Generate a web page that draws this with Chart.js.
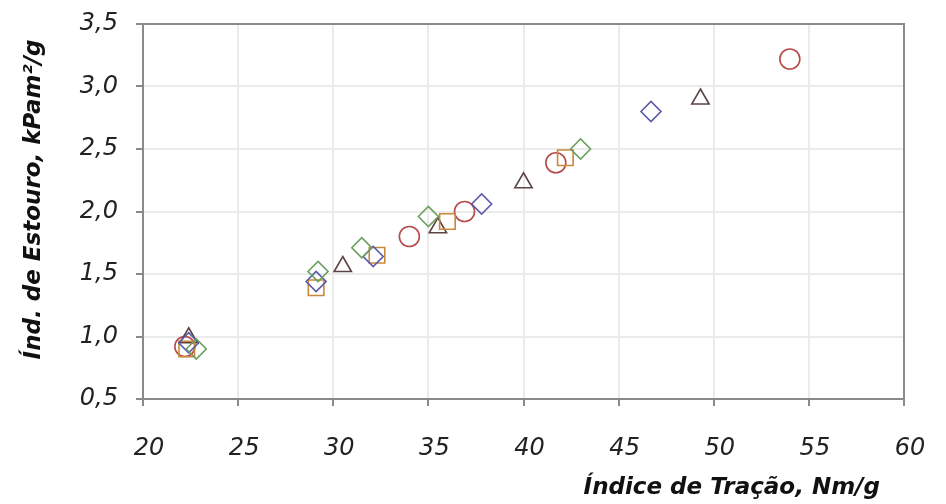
<!DOCTYPE html>
<html>
<head>
<meta charset="utf-8">
<script src="https://cdn.jsdelivr.net/npm/chart.js@4"></script>
<style>
  html, body { margin: 0; padding: 0; background: #fff; }
  #wrap { width: 946px; height: 504px; }
</style>
</head>
<body>
<div id="wrap"><canvas id="ESTOURO"></canvas></div>
<script>
// Índice de tração (x) vs índice de estouro (y), uma série por marcador
const circuloX = [22.2, 34.0, 36.9, 41.7, 54.0];
const circuloY = [0.92, 1.80, 2.00, 2.39, 3.22];

const quadradoX = [22.3, 29.1, 32.3, 36.0, 42.2];
const quadradoY = [0.90, 1.39, 1.65, 1.92, 2.43];

const trianguloX = [22.4, 30.5, 35.5, 40.0, 49.3];
const trianguloY = [0.99, 1.56, 1.87, 2.23, 2.90];

const losangoAzulX = [22.4, 29.1, 32.1, 37.8, 46.7];
const losangoAzulY = [0.95, 1.44, 1.64, 2.06, 2.80];

const losangoVerdeX = [22.8, 29.2, 31.5, 35.0, 43.0];
const losangoVerdeY = [0.90, 1.52, 1.71, 1.96, 2.50];

const xMin = 20, xMax = 60, xStep = 5;
const yMin = 0.5, yMax = 3.5, yStep = 0.5;

function pontos(xs, ys) {
  return xs.map((x, i) => ({ x: x, y: ys[i] }));
}

function serie(xs, ys, shape, color, radius) {
  return {
    data: pontos(xs, ys),
    pointStyle: shape,
    pointRadius: radius,
    pointHoverRadius: radius,
    pointBorderWidth: 1.6,
    pointBorderColor: color,
    pointBackgroundColor: 'rgba(255,255,255,0)',
    borderColor: color,
    showLine: false
  };
}

const gridCor = '#ebebeb';
const eixoCor = '#8a8a8a';
const fonte = "'DejaVu Sans', sans-serif";

// contorno superior/direito da área do gráfico
const moldura = {
  id: 'moldura',
  afterDraw(chart) {
    const a = chart.chartArea;
    const ctx = chart.ctx;
    ctx.save();
    ctx.strokeStyle = eixoCor;
    ctx.lineWidth = 2;
    ctx.beginPath();
    ctx.moveTo(a.left, a.top);
    ctx.lineTo(a.right, a.top);
    ctx.lineTo(a.right, a.bottom);
    ctx.stroke();
    ctx.restore();
  }
};

const graph = document.getElementById('ESTOURO');

new Chart(graph, {
  type: 'scatter',
  data: {
    datasets: [
      serie(losangoVerdeX, losangoVerdeY, 'rectRot', '#6a9f5e', 10),
      serie(losangoAzulX, losangoAzulY, 'rectRot', '#5a5aa8', 10),
      serie(quadradoX, quadradoY, 'rect', '#c9893a', 11),
      serie(trianguloX, trianguloY, 'triangle', '#5c4444', 10),
      serie(circuloX, circuloY, 'circle', '#b84a4a', 10)
    ]
  },
  plugins: [moldura],
  options: {
    responsive: true,
    maintainAspectRatio: false,
    animation: false,
    layout: { padding: { left: 0, right: 42, top: 24, bottom: 0 } },
    plugins: {
      legend: { display: false },
      tooltip: { enabled: false }
    },
    scales: {
      x: {
        type: 'linear',
        min: xMin,
        max: xMax,
        afterFit(scale) {
          scale.height = 105;
          scale.paddingLeft = 0;
          scale.paddingRight = 0;
        },
        ticks: {
          stepSize: xStep,
          padding: 28,
          labelOffset: 6,
          color: '#222',
          font: { family: fonte, size: 24, style: 'italic' }
        },
        grid: {
          color: gridCor,
          lineWidth: 2,
          tickLength: 7,
          tickColor: eixoCor,
          tickWidth: 2
        },
        border: { color: eixoCor, width: 2 },
        title: {
          display: true,
          align: 'end',
          text: 'Índice de Tração, Nm/g\u00a0\u00a0\u00a0',
          color: '#111',
          padding: { top: 0, bottom: 2 },
          font: { family: fonte, size: 23, style: 'italic', weight: 'bold' }
        }
      },
      y: {
        type: 'linear',
        min: yMin,
        max: yMax,
        afterFit(scale) {
          scale.width = 143;
          scale.paddingTop = 0;
          scale.paddingBottom = 0;
        },
        ticks: {
          stepSize: yStep,
          padding: 18,
          color: '#222',
          font: { family: fonte, size: 24, style: 'italic' },
          callback: (v) => v.toFixed(1).replace('.', ',')
        },
        grid: {
          color: gridCor,
          lineWidth: 2,
          tickLength: 7,
          tickColor: eixoCor,
          tickWidth: 2
        },
        border: { color: eixoCor, width: 2 },
        title: {
          display: true,
          text: '\u00a0\u00a0\u00a0Índ. de Estouro, kPam²/g',
          color: '#111',
          padding: { top: 20, bottom: 0 },
          font: { family: fonte, size: 23, style: 'italic', weight: 'bold' }
        }
      }
    }
  }
});
</script>
</body>
</html>
